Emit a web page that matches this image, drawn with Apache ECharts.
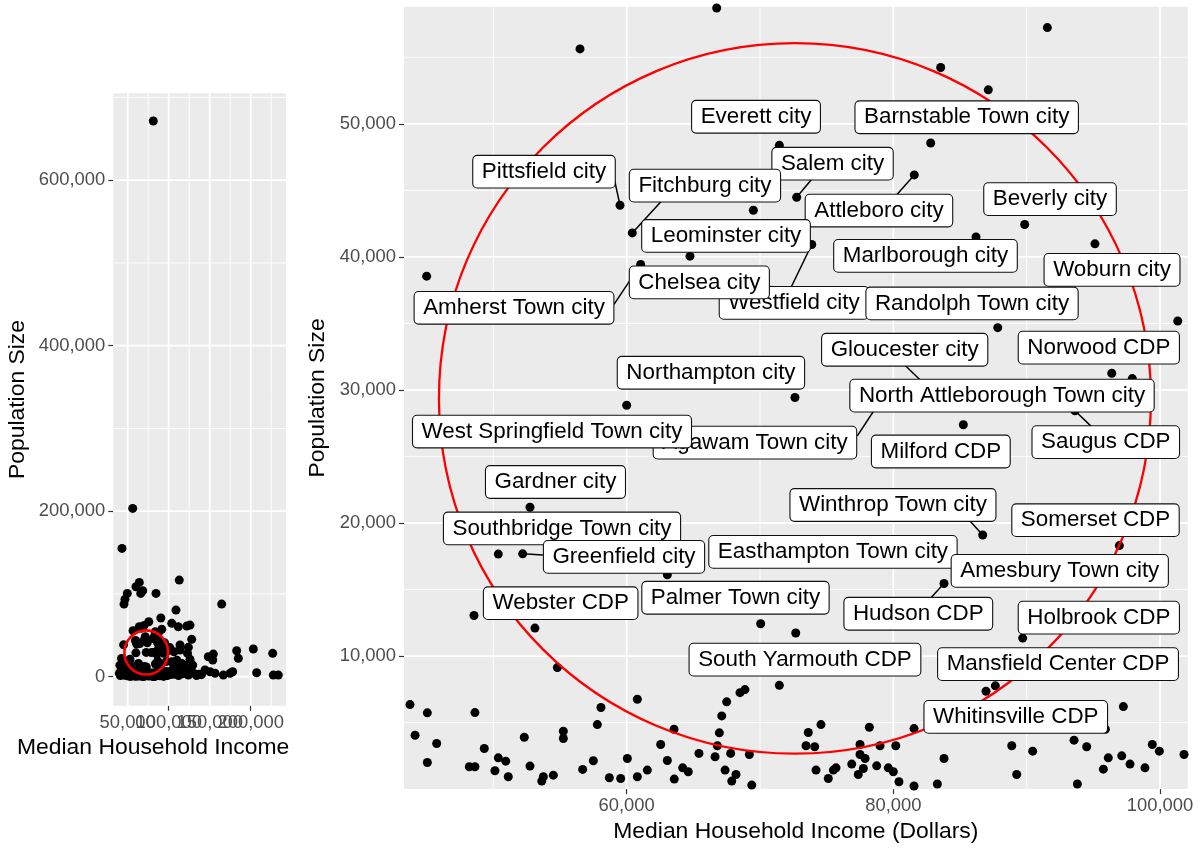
<!DOCTYPE html>
<html>
<head>
<meta charset="utf-8">
<title>Population vs Median Household Income</title>
<script src="https://cdn.jsdelivr.net/npm/echarts@6/dist/echarts.min.js"></script>
<style>
  html, body { margin: 0; padding: 0; background: #fff; }
  #chart { width: 1200px; height: 848px; }
</style>
</head>
<body>
<div id="chart"></div>
<script>
// places that fall inside the zoomed window (right panel), income in dollars
const windowIncome = [
  56500, 59500, 60420, 69500, 71450, 72750, 64750, 61050, 45000, 66750,
  91550, 83550, 87120, 82800, 81570, 89850, 86200, 95120, 73880, 60000,
  72620, 52750, 101330, 87830, 96380, 97920, 85250, 93620, 50370, 52200,
  63050, 48550, 53120, 70050, 72680, 71450, 54800, 68870, 68500, 67500,
  67130, 66950, 66800, 66630, 67800, 69200, 67380, 68200, 67880, 69380,
  63550, 62550, 65420, 63050, 64200, 64620, 63570, 61550, 60800, 59550,
  58700, 60050, 60800, 58070, 57800, 57500, 56700, 55250, 55250, 54500,
  53750, 53630, 52750, 52320, 51120, 50930, 50370, 50120, 49320, 48620,
  48200, 48620, 45750, 45050, 45050, 44130, 43750, 86700, 96950, 83800,
  89700, 86950, 87650, 97250, 95900, 81550, 74570, 78200, 73620, 73450,
  74100, 77500, 77500, 79000, 80180, 77880, 76880, 77750, 77370, 78750,
  79620, 80000, 80420, 81550, 83300, 83800, 74200, 75500, 75700, 75120,
  88880, 89250, 90450, 93550, 94500, 93800, 96120, 95750, 97130, 97750,
  98870, 99420, 99950, 101800, 83120, 79000
];
const windowPopulation = [
  55630, 43880, 41800, 43500, 48380, 44480, 40050, 39430, 38550, 58700,
  57230, 54230, 52550, 48560, 46160, 42430, 41500, 40980, 40930, 28850,
  29430, 21180, 35180, 34680, 31250, 30850, 27380, 28430, 17660, 17680,
  16100, 13050, 12100, 12430, 11730, 7800, 9130, 7480, 7250, 6560,
  5500, 4230, 3260, 2430, 2680, 2600, 1430, 1100, 600, 300,
  4500, 3350, 2680, 2150, 1600, 1300, 750, 1430, 930, 800,
  850, 2300, 6750, 6130, 4850, 2130, 1480, 4350, 3800, 1050,
  930, 600, 1730, 3900, 930, 2100, 2350, 1380, 3050, 5750,
  1680, 1680, 3430, 5730, 2000, 4050, 6350, 19100, 18300, 15450,
  11350, 7350, 7760, 6200, 4500, 4550, 4850, 4650, 4250, 3260,
  3180, 3350, 2600, 3260, 3260, 2300, 1880, 1550, 1100, 1750,
  1600, 1300, 550, 230, 380, 2300, 1430, 1430, 1600, 800,
  3260, 1100, 2850, 3680, 3180, 380, 2350, 1500, 2500, 1880,
  1600, 3350, 2850, 2600, 29680, 29150
];

// the rest of the state, only visible in the overview panel
const otherIncome = [
  81200, 56100, 43050, 64150, 112900, 49500, 46700, 45500, 60100, 68300,
  65900, 84500, 108900, 164600, 90400, 75700, 103700, 111700, 122000, 64150,
  70000, 126000, 128000, 124000, 123000, 126000, 129300, 113800, 113800, 106500,
  148300, 154400, 153700, 144300, 150400, 156500, 166600, 174800, 178000, 182900,
  184900, 203200, 207300, 226800, 227600, 233700, 104000, 106000, 108500, 110000,
  112000, 115000, 117000, 119000, 121000, 124000, 127000, 131000, 134000, 137000,
  140000, 103500, 110000, 116000, 39800, 40500, 42000, 41000, 42500
];
const otherPopulation = [
  671500, 203400, 155100, 114000, 116800, 100700, 93500, 87800, 108700, 103900,
  100700, 100700, 80550, 87800, 71000, 66400, 64500, 60400, 61200, 60400,
  62000, 62400, 45200, 35500, 28200, 21000, 14100, 38300, 32200, 30200,
  24150, 27400, 20200, 8100, 6000, 4100, 2000, 4100, 6000, 31400,
  22200, 33500, 4800, 28300, 2000, 2000, 8000, 3000, 12000, 5500,
  1500, 9000, 3500, 14000, 6500, 2000, 9500, 4000, 1500, 3000,
  2500, 18000, 20000, 16000, 4100, 14000, 8000, 1500, 22000
];

// labelled places and where their repelled label boxes sit (data units)
const labelNames = [
  'Everett city', 'Barnstable Town city', 'Pittsfield city', 'Salem city',
  'Fitchburg city', 'Beverly city', 'Attleboro city', 'Leominster city',
  'Marlborough city', 'Woburn city', 'Westfield city', 'Chelsea city',
  'Amherst Town city', 'Randolph Town city', 'Gloucester city', 'Norwood CDP',
  'Northampton city', 'Agawam Town city', 'North Attleborough Town city',
  'West Springfield Town city', 'Saugus CDP', 'Milford CDP', 'Gardner city',
  'Winthrop Town city', 'Somerset CDP', 'Southbridge Town city',
  'Easthampton Town city', 'Amesbury Town city', 'Greenfield city',
  'Palmer Town city', 'Webster CDP', 'Hudson CDP', 'Holbrook CDP',
  'South Yarmouth CDP', 'Mansfield Center CDP', 'Whitinsville CDP'
];
const labelAtIncome = [
  69700, 85500, 53800, 75440, 65870, 91750, 78920, 67450, 82410, 96400,
  72550, 65450, 51550, 85900, 80850, 95410, 66320, 69620, 88150, 54400,
  95930, 83560, 54660, 79970, 95160, 55150, 75470, 92480, 59800, 68160,
  55050, 81870, 95410, 73370, 92350, 89180
];
const labelAtPopulation = [
  50530, 50490, 46400, 47000, 45350, 44340, 43480, 41570, 40070, 39020,
  36540, 38080, 36170, 36500, 33020, 33180, 31290, 26040, 29570, 26870,
  26080, 25370, 23080, 21350, 20210, 19590, 17830, 16400, 17450, 14380,
  13970, 13180, 12890, 9730, 9390, 5430
];

// leader segments: label edge -> point (income, population)
const leaderFrom = [
  [59050, 45950], [62650, 44230], [73970, 45950], [80270, 44680], [72250, 37550],
  [59050, 36430], [67610, 38000], [80870, 31850], [77300, 26550], [94820, 27280],
  [53720, 17600], [85750, 20150], [82820, 14380]
];
const leaderTo = [
  [59500, 43880], [60420, 41800], [72750, 44480], [81570, 46160], [73880, 40930],
  [61050, 39430], [72760, 37630], [83120, 29680], [79000, 29150], [93620, 28430],
  [52200, 17680], [86700, 19100], [83800, 15450]
];

// highlighted region
const focusIncome = 72620;
const focusPopulation = 29360;
const focusRadius = 26700;

// axis breaks
const overviewXTicks = [50000, 100000, 150000, 200000];
const overviewXMinor = [75000, 125000, 175000, 225000];
const overviewYTicks = [0, 200000, 400000, 600000];
const overviewYMinor = [100000, 300000, 500000, 700000];
const zoomXTicks = [60000, 80000, 100000];
const zoomXMinor = [50000, 70000, 90000];
const zoomYTicks = [10000, 20000, 30000, 40000, 50000];
const zoomYMinor = [5000, 15000, 25000, 35000, 45000, 55000];

const font = '"Liberation Sans", Arial, Helvetica, sans-serif';
const fmt = v => Number(v).toLocaleString('en-US');

const allPoints = windowIncome.map((x, i) => [x, windowPopulation[i]])
  .concat(otherIncome.map((x, i) => [x, otherPopulation[i]]));

// kind: 0 x major, 1 x minor, 2 y major, 3 y minor
function gridData(xMaj, xMin, yMaj, yMin) {
  return [].concat(
    xMin.map(v => [v, 1]), yMin.map(v => [v, 3]),
    xMaj.map(v => [v, 0]), yMaj.map(v => [v, 2])
  );
}

function renderGrid(params, api) {
  const v = api.value(0), kind = api.value(1);
  const cs = params.coordSys;
  const w = (kind === 0 || kind === 2) ? 1.8 : 0.9;
  if (kind < 2) {
    const px = api.coord([v, 0])[0];
    return { type: 'line', shape: { x1: px, y1: cs.y, x2: px, y2: cs.y + cs.height },
      style: { stroke: '#ffffff', lineWidth: w } };
  }
  const py = api.coord([0, v])[1];
  return { type: 'line', shape: { x1: cs.x, y1: py, x2: cs.x + cs.width, y2: py },
    style: { stroke: '#ffffff', lineWidth: w } };
}

function renderFocus(width) {
  return function (params, api) {
    const c = api.coord([api.value(0), api.value(1)]);
    const s = api.size([api.value(2), api.value(2)]);
    return { type: 'ellipse', shape: { cx: c[0], cy: c[1], rx: s[0], ry: s[1] },
      style: { fill: 'none', stroke: '#ff0000', lineWidth: width } };
  };
}

function valueAxis(gridIndex, min, max, ticks, name, nameGap, extra) {
  return Object.assign({
    type: 'value', gridIndex, min, max,
    axisLine: { show: false },
    splitLine: { show: false },
    axisTick: { show: true, customValues: ticks, length: 5,
      lineStyle: { color: '#333333', width: 1.2 } },
    axisLabel: { customValues: ticks, formatter: fmt, color: '#4D4D4D',
      fontSize: 18.4, fontFamily: font, hideOverlap: false, interval: 0,
      showMinLabel: true, showMaxLabel: true },
    name, nameLocation: 'middle', nameGap,
    nameTextStyle: { fontSize: 22.9, color: '#000', fontFamily: font }
  }, extra || {});
}

// the overview's income labels collide (as in the original); split them over
// two stacked axes so the library keeps every one of them
const overviewXTicksA = overviewXTicks.filter((v, i) => i % 2 === 0);
const overviewXTicksB = overviewXTicks.filter((v, i) => i % 2 === 1);

const pointStyle = { color: '#000', opacity: 1 };

const chart = echarts.init(document.getElementById('chart'), null, { renderer: 'canvas' });

chart.setOption({
  animation: false,
  backgroundColor: '#ffffff',
  grid: [
    { left: 113.3, top: 93.3, width: 172.7, height: 612.4, show: true,
      backgroundColor: '#EBEBEB', borderWidth: 0 },
    { left: 404, top: 6.7, width: 783.7, height: 784, show: true,
      backgroundColor: '#EBEBEB', borderWidth: 0 }
  ],
  xAxis: [
    valueAxis(0, 32440, 243050, overviewXTicksA, 'Median Household Income', 30, {
      nameTextStyle: { fontSize: 22.9, color: '#000', fontFamily: font, padding: [0, 93, 0, 0] }
    }),
    valueAxis(1, 43300, 102075, zoomXTicks, 'Median Household Income (Dollars)', 29),
    valueAxis(0, 32440, 243050, overviewXTicksB, '', 30, { position: 'bottom', offset: 0 })
  ],
  yAxis: [
    valueAxis(0, -35000, 705000, overviewYTicks, 'Population Size', 84),
    valueAxis(1, 0, 58800, zoomYTicks, 'Population Size', 74)
  ],
  series: [
    { type: 'custom', xAxisIndex: 0, yAxisIndex: 0, z: 1, silent: true,
      renderItem: renderGrid,
      data: gridData(overviewXTicks, overviewXMinor, overviewYTicks, overviewYMinor) },
    { type: 'custom', xAxisIndex: 1, yAxisIndex: 1, z: 1, silent: true,
      renderItem: renderGrid,
      data: gridData(zoomXTicks, zoomXMinor, zoomYTicks, zoomYMinor) },
    { type: 'scatter', xAxisIndex: 0, yAxisIndex: 0, z: 2, silent: true,
      symbolSize: 9, itemStyle: pointStyle, data: allPoints },
    { type: 'scatter', xAxisIndex: 1, yAxisIndex: 1, z: 2, silent: true,
      symbolSize: 9, itemStyle: pointStyle, data: allPoints },
    { type: 'custom', xAxisIndex: 0, yAxisIndex: 0, z: 3, silent: true,
      renderItem: renderFocus(2.6),
      data: [[focusIncome, focusPopulation, focusRadius]] },
    { type: 'custom', xAxisIndex: 1, yAxisIndex: 1, z: 3, silent: true,
      renderItem: renderFocus(2.3),
      data: [[focusIncome, focusPopulation, focusRadius]] },
    { type: 'custom', xAxisIndex: 1, yAxisIndex: 1, z: 4, silent: true,
      renderItem: function (params, api) {
        const a = api.coord([api.value(0), api.value(1)]);
        const b = api.coord([api.value(2), api.value(3)]);
        return { type: 'line', shape: { x1: a[0], y1: a[1], x2: b[0], y2: b[1] },
          style: { stroke: '#000', lineWidth: 1.5 } };
      },
      data: leaderFrom.map((f, i) => f.concat(leaderTo[i])) },
    { type: 'scatter', xAxisIndex: 1, yAxisIndex: 1, z: 5, silent: true,
      symbol: 'rect', symbolSize: 1, itemStyle: { color: 'rgba(0,0,0,0)', opacity: 1 },
      label: {
        show: true, position: 'inside', formatter: '{b}', offset: [0, 1.5],
        fontFamily: font, fontSize: 22.4, lineHeight: 23, color: '#000',
        backgroundColor: '#ffffff', borderColor: '#111', borderWidth: 1.1,
        borderRadius: 4, padding: [4.3, 8.5, 4.3, 8.5]
      },
      labelLayout: { hideOverlap: false },
      data: labelNames.map((n, i) => ({ name: n, value: [labelAtIncome[i], labelAtPopulation[i]] })) }
  ]
});
</script>
</body>
</html>
